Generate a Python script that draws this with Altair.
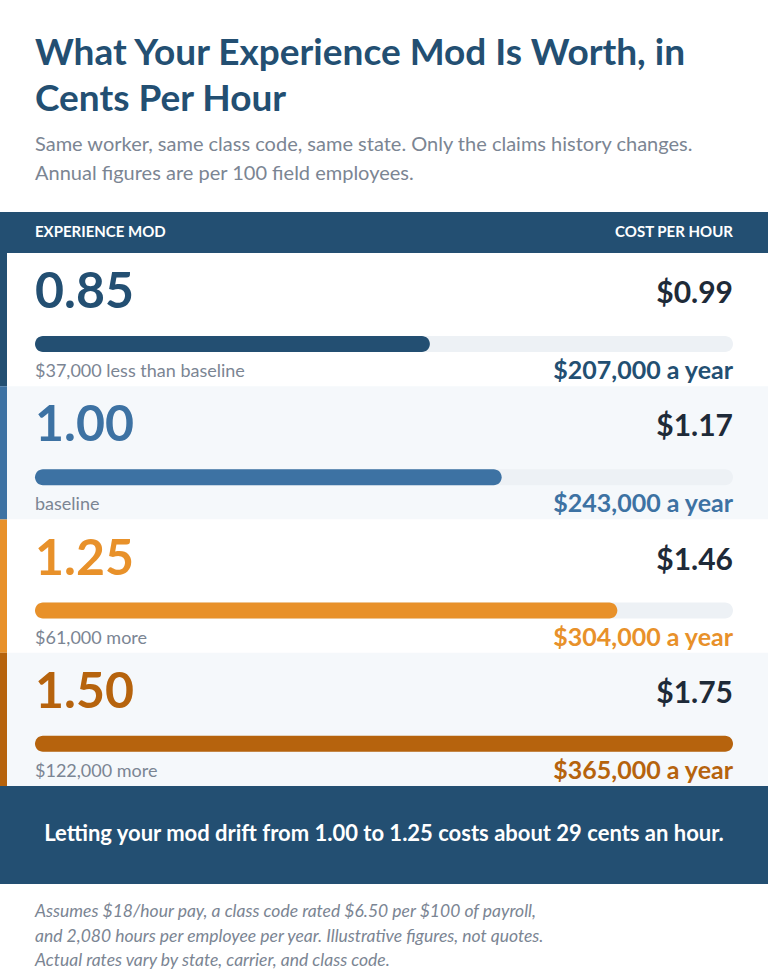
import altair as alt
import pandas as pd

# Experience mod scenarios
mods = ["0.85", "1.00", "1.25", "1.50"]
cost_per_hour = [0.99, 1.17, 1.46, 1.75]
annual_cost = [207000, 243000, 304000, 365000]
vs_baseline = ["$37,000 less than baseline", "baseline", "$61,000 more", "$122,000 more"]
accent = ["#234f72", "#3d72a3", "#e8912a", "#b6630d"]
row_fill = ["#ffffff", "#f5f8fb", "#ffffff", "#f5f8fb"]

title_lines = ["What Your Experience Mod Is Worth, in", "Cents Per Hour"]
subtitle_lines = [
    "Same worker, same class code, same state. Only the claims history changes.",
    "Annual figures are per 100 field employees.",
]
footnote_lines = [
    "Assumes $18/hour pay, a class code rated $6.50 per $100 of payroll,",
    "and 2,080 hours per employee per year. Illustrative figures, not quotes.",
    "Actual rates vary by state, carrier, and class code.",
]

W, H = 768, 976
LEFT, RIGHT = 35, 733
NAVY = "#234f72"
GRAY = "#7b8593"
INK = "#1e2a38"
TRACK = "#edf1f5"
FONT = "Lato"

HEAD_TOP, HEAD_BOT = 212, 253
ROW_H = 133.25
FOOT_TOP = HEAD_BOT + 4 * ROW_H
FOOT_BOT = 884

rows = []
for i, m in enumerate(mods):
    top = HEAD_BOT + i * ROW_H
    rows.append({
        "mod": m,
        "cost": cost_per_hour[i],
        "cost_label": f"${cost_per_hour[i]:.2f}",
        "annual_label": f"${annual_cost[i]:,} a year",
        "delta": vs_baseline[i],
        "accent": accent[i],
        "fill": row_fill[i],
        "top": top,
        "bot": top + ROW_H,
        "num_y": top + 55,
        "cost_y": top + 50,
        "bar_y": top + 83,
        "bar_y2": top + 99,
        "sub_y": top + 124,
        "ann_y": top + 126,
        "zero": 0.0,
        "full": max(cost_per_hour),
    })
df = pd.DataFrame(rows)

ys = alt.Scale(domain=[0, H], range=[0, H])
xs = alt.Scale(domain=[0, max(cost_per_hour)], range=[LEFT, RIGHT])


def Y(f):
    return alt.Y(f, type="quantitative", scale=ys, axis=None)


def Y2(f):
    return alt.Y2(f)


def text_layer(data, x, align, size, color, weight="normal", style="normal", field="t"):
    return alt.Chart(data).mark_text(
        align=align, baseline="alphabetic", font=FONT, fontSize=size,
        fontWeight=weight, fontStyle=style, color=color,
    ).encode(x=alt.value(x), y=Y("y"), text=alt.Text(f"{field}:N"))


# Title, subtitle and footnote
title_df = pd.DataFrame({"t": title_lines, "y": [65, 111]})
sub_df = pd.DataFrame({"t": subtitle_lines, "y": [151, 180]})
note_df = pd.DataFrame({"t": footnote_lines, "y": [917, 942, 966]})

title = text_layer(title_df, LEFT, "left", 37, NAVY, weight="bold")
subtitle = text_layer(sub_df, LEFT, "left", 20, GRAY)
footnote = text_layer(note_df, LEFT, "left", 17.5, GRAY, style="italic")

# Header and footer bands
bands = pd.DataFrame({"y": [HEAD_TOP, FOOT_TOP], "y2": [HEAD_BOT, FOOT_BOT]})
band_layer = alt.Chart(bands).mark_rect(color=NAVY).encode(
    x=alt.value(0), x2=alt.value(W), y=Y("y"), y2=Y2("y2")
)
head_df = pd.DataFrame({"t": ["EXPERIENCE MOD"], "y": [237]})
head_df2 = pd.DataFrame({"t": ["COST PER HOUR"], "y": [237]})
head_l = text_layer(head_df, LEFT, "left", 15, "#ffffff", weight="bold")
head_r = text_layer(head_df2, RIGHT, "right", 15, "#ffffff", weight="bold")

# Row backgrounds and accents
row_bg = alt.Chart(df).mark_rect().encode(
    x=alt.value(0), x2=alt.value(W), y=Y("top"), y2=Y2("bot"),
    color=alt.Color("fill:N", scale=None),
)
row_accent = alt.Chart(df).mark_rect().encode(
    x=alt.value(0), x2=alt.value(7), y=Y("top"), y2=Y2("bot"),
    color=alt.Color("accent:N", scale=None),
)

# Bars: cost per hour against the highest scenario
track = alt.Chart(df).mark_rect(cornerRadius=8, color=TRACK).encode(
    x=alt.X("zero:Q", scale=xs, axis=None), x2="full:Q",
    y=Y("bar_y"), y2=Y2("bar_y2"),
)
bar = alt.Chart(df).mark_rect(cornerRadius=8).encode(
    x=alt.X("zero:Q", scale=xs, axis=None), x2="cost:Q",
    y=Y("bar_y"), y2=Y2("bar_y2"),
    color=alt.Color("accent:N", scale=None),
)

big_num = alt.Chart(df).mark_text(
    align="left", baseline="alphabetic", font=FONT, fontSize=50, fontWeight="bold"
).encode(x=alt.value(LEFT), y=Y("num_y"), text="mod:N", color=alt.Color("accent:N", scale=None))

cost_txt = alt.Chart(df).mark_text(
    align="right", baseline="alphabetic", font=FONT, fontSize=30, fontWeight="bold", color=INK
).encode(x=alt.value(RIGHT), y=Y("cost_y"), text="cost_label:N")

delta_txt = alt.Chart(df).mark_text(
    align="left", baseline="alphabetic", font=FONT, fontSize=18, color=GRAY
).encode(x=alt.value(LEFT), y=Y("sub_y"), text="delta:N")

annual_txt = alt.Chart(df).mark_text(
    align="right", baseline="alphabetic", font=FONT, fontSize=25, fontWeight="bold"
).encode(x=alt.value(RIGHT), y=Y("ann_y"), text="annual_label:N",
         color=alt.Color("accent:N", scale=None))

# Takeaway in the footer band
drift_cents = round((cost_per_hour[2] - cost_per_hour[1]) * 100)
foot_df = pd.DataFrame({
    "t": [f"Letting your mod drift from {mods[1]} to {mods[2]} costs about {drift_cents} cents an hour."],
    "y": [841],
})
foot_txt = text_layer(foot_df, W / 2, "center", 22, "#ffffff", weight="bold")

chart = alt.layer(
    band_layer, row_bg, row_accent, track, bar,
    title, subtitle, head_l, head_r,
    big_num, cost_txt, delta_txt, annual_txt,
    foot_txt, footnote,
).properties(
    width=W, height=H, autosize=alt.AutoSizeParams(type="none"), padding=0,
    background="#ffffff",
).configure_view(strokeWidth=0)

chart.save("out.html", embed_options={"renderer": "svg", "actions": False})
